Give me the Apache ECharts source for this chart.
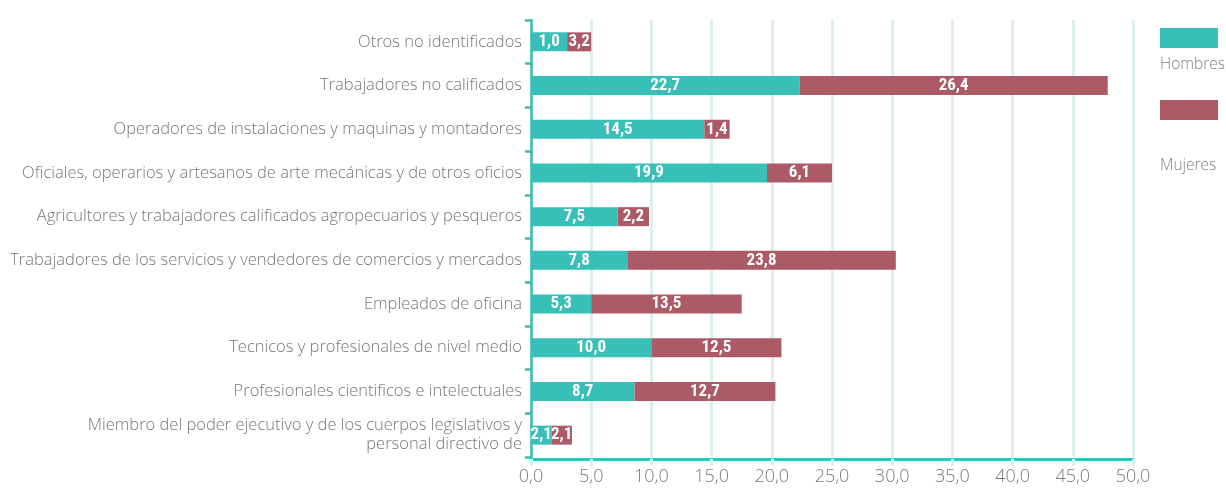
<!DOCTYPE html>
<html>
<head>
<meta charset="utf-8">
<script src="https://cdn.jsdelivr.net/npm/echarts@6/dist/echarts.min.js"></script>
<style>
html,body{margin:0;padding:0;background:#fff;}
#chart{width:1226px;height:493px;}
</style>
</head>
<body>
<div id="chart"></div>
<script>
// Categories, top to bottom
var categories = [
  "Otros no identificados",
  "Trabajadores no calificados",
  "Operadores de instalaciones y maquinas y montadores",
  "Oficiales, operarios y artesanos de arte mecánicas y de otros oficios",
  "Agricultores y trabajadores calificados agropecuarios y pesqueros",
  "Trabajadores de los servicios y vendedores de comercios y mercados",
  "Empleados de oficina",
  "Tecnicos y profesionales de nivel medio",
  "Profesionales cientificos e intelectuales",
  "Miembro del poder ejecutivo y de los cuerpos legislativos y\npersonal directivo de"
];
// Bar lengths as drawn
var hombres = [3.0, 22.3, 14.4, 19.6, 7.2, 8.0, 5.0, 10.0, 8.6, 1.7];
var mujeres = [2.0, 25.6, 2.1, 5.4, 2.6, 22.3, 12.5, 10.8, 11.7, 1.7];
// Printed labels
var hombresLabels = ["1,0", "22,7", "14,5", "19,9", "7,5", "7,8", "5,3", "10,0", "8,7", "2,1"];
var mujeresLabels = ["3,2", "26,4", "1,4", "6,1", "2,2", "23,8", "13,5", "12,5", "12,7", "2,1"];
var seriesNames = ["Hombres", "Mujeres"];
var colors = ["#38bfb7", "#ad5a67"];

var chart = echarts.init(document.getElementById('chart'), null, {renderer: 'canvas'});
var labelStyle = function (labels) {
  return {
    show: true,
    position: 'inside',
    color: '#ffffff',
    fontFamily: '"Liberation Sans Narrow", "Roboto Condensed", "Liberation Sans", sans-serif',
    fontWeight: 'bold',
    fontSize: 17,
    formatter: function (p) { return labels[p.dataIndex]; }
  };
};
chart.setOption({
  animation: false,
  color: colors,
  grid: {left: 531, right: 93, top: 20, bottom: 36, containLabel: false},
  legend: {
    orient: 'vertical',
    right: 3,
    top: 23,
    itemWidth: 58,
    itemHeight: 20,
    itemGap: 52,
    icon: 'rect',
    formatter: function () { return ''; },
    data: seriesNames
  },
  graphic: [
    {type: 'text', left: 1160, top: 57, style: {text: 'Hombres', fill: '#808080', font: '300 15.5px "Open Sans", sans-serif'}},
    {type: 'text', left: 1160, top: 158, style: {text: 'Mujeres', fill: '#808080', font: '300 15.5px "Open Sans", sans-serif'}}
  ],
  xAxis: {
    type: 'value',
    min: 0,
    max: 50,
    interval: 5,
    offset: 2,
    axisLine: {show: true, lineStyle: {color: '#38bfb7', width: 3}},
    axisTick: {show: true, length: 7, lineStyle: {color: '#dcf0ef', width: 3}},
    splitLine: {show: true, lineStyle: {color: '#dcf0ef', width: 3}},
    axisLabel: {
      color: '#7a7a7a',
      fontSize: 18,
      fontWeight: 300,
      margin: 9,
      fontFamily: '"Open Sans", sans-serif',
      formatter: function (v) { return v.toFixed(1).replace('.', ','); }
    }
  },
  yAxis: {
    type: 'category',
    inverse: true,
    data: categories,
    axisLine: {show: true, lineStyle: {color: '#38bfb7', width: 2.5}},
    axisTick: {show: true, length: 6, lineStyle: {color: '#38bfb7', width: 2.5}},
    axisLabel: {
      color: '#777777',
      fontSize: 16.5,
      fontWeight: 300,
      margin: 9,
      align: 'right',
      lineHeight: 19,
      fontFamily: '"Open Sans", sans-serif'
    }
  },
  series: [
    {name: seriesNames[0], type: 'bar', stack: 'total', barWidth: 19, data: hombres, label: labelStyle(hombresLabels)},
    {name: seriesNames[1], type: 'bar', stack: 'total', barWidth: 19, data: mujeres, label: labelStyle(mujeresLabels)}
  ]
});
</script>
</body>
</html>
